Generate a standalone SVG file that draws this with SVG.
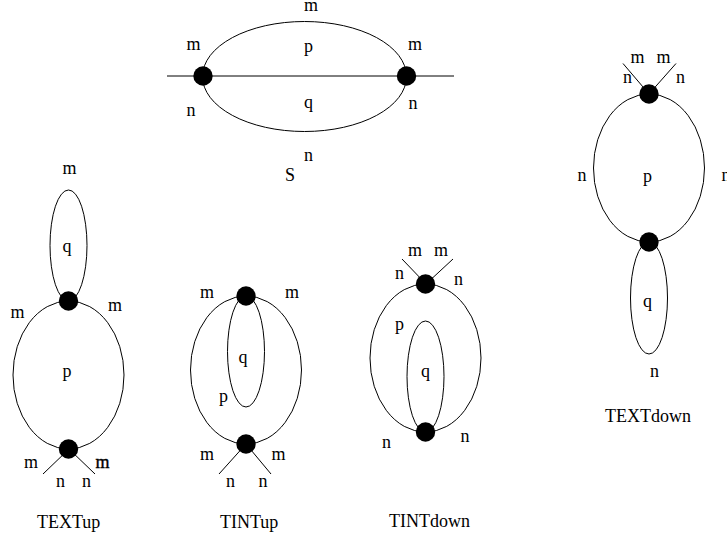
<svg xmlns="http://www.w3.org/2000/svg" width="727" height="540" viewBox="0 0 727 540">
<style>
.e{fill:none;stroke:#000;stroke-width:1}
.l{stroke:#000;stroke-width:1;fill:none}
.d{fill:#000}
.b{stroke:#000;stroke-width:.4}
text{font-family:"Liberation Serif","Times New Roman",serif;font-size:18px;fill:#000}
</style>
<rect width="727" height="540" fill="#fff"/>
<g id="connectors">
<ellipse class="e" cx="304.500" cy="76.500" rx="102" ry="55"/>
<path class="l" d="M167 76H454"/>
<ellipse class="e" cx="68.500" cy="375" rx="55.500" ry="74"/>
<ellipse class="e" cx="68.500" cy="245.500" rx="18.500" ry="55.500"/>
<path class="l" d="M43 474L69 449L95 474"/>
<ellipse class="e" cx="246" cy="370" rx="55.500" ry="74"/>
<ellipse class="e" cx="246" cy="351.500" rx="18.500" ry="55.500"/>
<path class="l" d="M219 474L246 444L271 474"/>
<ellipse class="e" cx="425.500" cy="358" rx="55.500" ry="74"/>
<ellipse class="e" cx="425.500" cy="376.500" rx="18.500" ry="55.500"/>
<path class="l" d="M402 259L426 284L453 259"/>
<ellipse class="e" cx="649" cy="168" rx="55.500" ry="74"/>
<ellipse class="e" cx="649" cy="298" rx="18.500" ry="56"/>
<path class="l" d="M623 63.500L649 94L676 63.500"/>
</g>
<g id="S">
<circle class="d" cx="203" cy="76" r="9.700"/><circle class="d" cx="406.500" cy="76" r="9.700"/>
<text x="304" y="11">m</text><text x="186.500" y="50">m</text><text x="408" y="50">m</text>
<text x="304" y="52">p</text><text x="304" y="108">q</text>
<text x="186.500" y="116">n</text><text x="408.500" y="109">n</text><text x="304" y="161">n</text>
<text x="285" y="181">S</text>
</g>
<g id="TEXTup">
<circle class="d" cx="68.500" cy="301" r="9.700"/><circle class="d" cx="68.500" cy="449" r="9.700"/>
<text x="62.500" y="174">m</text><text x="62.500" y="252">q</text><text x="10.500" y="318">m</text><text x="108" y="311">m</text>
<text x="62.500" y="377">p</text><text x="24" y="468">m</text><text class="b" x="95.500" y="468">m</text>
<text x="56" y="487">n</text><text x="82" y="487">n</text><text x="37" y="528">TEXTup</text>
</g>
<g id="TINTup">
<circle class="d" cx="246" cy="296" r="9.700"/><circle class="d" cx="246" cy="444" r="9.700"/>
<text x="200" y="298">m</text><text x="285" y="298">m</text><text x="238.500" y="363">q</text><text x="219" y="402">p</text>
<text x="200" y="460">m</text><text x="271.500" y="460">m</text><text x="226" y="487">n</text><text x="258.500" y="487">n</text>
<text x="220" y="528">TINTup</text>
</g>
<g id="TINTdown">
<circle class="d" cx="425.500" cy="284" r="9.700"/><circle class="d" cx="425.500" cy="432" r="9.700"/>
<text x="408" y="256">m</text><text x="434" y="256">m</text><text x="395" y="279">n</text><text x="454" y="285">n</text>
<text x="395" y="330">p</text><text x="421" y="376.500">q</text><text x="382" y="447.500">n</text><text x="460.500" y="441.500">n</text>
<text x="389" y="526.500">TINTdown</text>
</g>
<g id="TEXTdown">
<circle class="d" cx="649" cy="94" r="9.700"/><circle class="d" cx="649" cy="242" r="9.700"/>
<text x="630.500" y="63">m</text><text x="656.500" y="63">m</text><text x="623" y="83">n</text><text x="676" y="83">n</text>
<text x="577.500" y="181">n</text><text x="643" y="181.500">p</text><text x="721.500" y="181">n</text><text x="643" y="306.500">q</text>
<text x="650" y="376.500">n</text><text x="605" y="421.500">TEXTdown</text>
</g>
</svg>
